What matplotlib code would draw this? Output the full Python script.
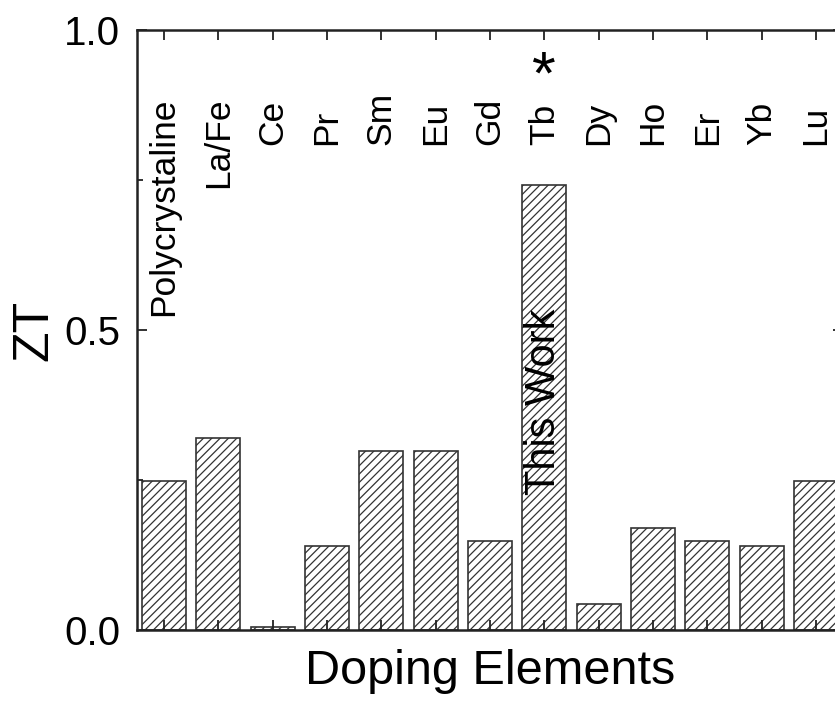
import matplotlib
matplotlib.use("Agg")
import matplotlib.pyplot as plt
from matplotlib.ticker import MultipleLocator, FormatStrFormatter

plt.rcParams['font.family'] = ['Liberation Sans', 'DejaVu Sans']
plt.rcParams['hatch.color'] = '#555555'
plt.rcParams['hatch.linewidth'] = 0.9

# data
elements = ["Polycrystaline", "La/Fe", "Ce", "Pr", "Sm", "Eu", "Gd",
            "Tb", "Dy", "Ho", "Er", "Yb", "Lu"]
zt = [0.248, 0.320, 0.005, 0.140, 0.299, 0.299, 0.149,
      0.742, 0.043, 0.170, 0.149, 0.140, 0.248]
# long names hang from the top, short ones sit on a common baseline
hang_from_top = ["Polycrystaline", "La/Fe"]
this_work = "Tb"

fig = plt.figure(figsize=(8.35, 7.08), dpi=100)
ax = fig.add_axes([0.164, 0.1102, 0.8456, 0.8474])

pos = list(range(1, len(elements) + 1))
ax.bar(pos, zt, width=0.81, color='white', edgecolor='#333333',
       linewidth=1.2, hatch='////')

ax.set_xlim(0.5, 13.5)
ax.set_ylim(0.0, 1.0)

for x, name in zip(pos, elements):
    if name in hang_from_top:
        ax.text(x, 0.887, name, rotation=90, ha='center', va='top',
                fontsize=25.5)
    else:
        ax.text(x, 0.808, name, rotation=90, ha='center', va='bottom',
                fontsize=25.5)

tb = pos[elements.index(this_work)]
ax.text(tb, 0.225, "This Work", rotation=90, ha='center', va='bottom',
        fontsize=30)
ax.text(tb, 0.968, "*", ha='center', va='top', fontsize=44)

ax.set_xticks(pos)
ax.set_xticklabels([])
ax.yaxis.set_major_locator(MultipleLocator(0.5))
ax.yaxis.set_minor_locator(MultipleLocator(0.25))
ax.yaxis.set_major_formatter(FormatStrFormatter('%.1f'))
ax.tick_params(axis='both', which='both', direction='in', top=True,
               right=True, width=1.3, color='#222222')
ax.tick_params(axis='both', which='major', length=7)
ax.tick_params(axis='y', which='minor', length=4)
ax.tick_params(axis='y', labelsize=29, pad=12)

for s in ax.spines.values():
    s.set_linewidth(1.8)
    s.set_color('#222222')

ax.set_ylabel("ZT", fontsize=36, labelpad=5)
ax.set_xlabel("Doping Elements", fontsize=35, labelpad=10)

fig.savefig("out.png", dpi=100)
